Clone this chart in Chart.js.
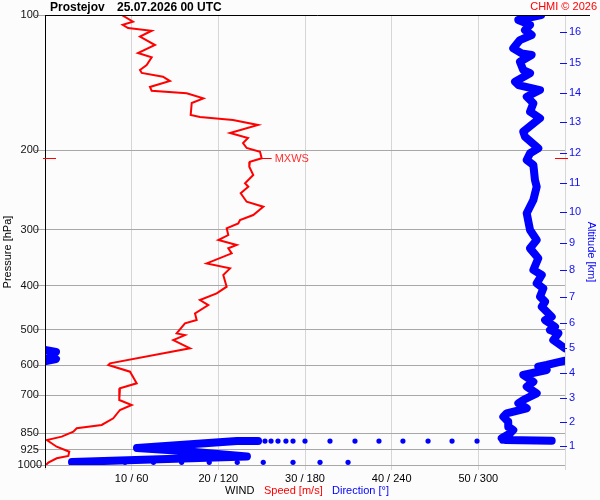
<!DOCTYPE html>
<html><head><meta charset="utf-8">
<script src="https://cdn.jsdelivr.net/npm/chart.js@4"></script>
<style>html,body{margin:0;padding:0;background:#fcfcfc;}canvas{display:block;}</style>
</head><body>
<canvas id="c" width="600" height="500"></canvas>
<script>
// ---- axes / ticks ----
const pressureTicks = [100, 200, 300, 400, 500, 600, 700, 850, 925, 1000];
const altitudeKm = [1, 2, 3, 4, 5, 6, 7, 8, 9, 10, 11, 12, 13, 14, 15, 16];
const altitudePressure = [907.5, 801, 710.8, 625.6, 550.5, 484.3, 422.7, 368.6, 320.6, 273.6, 236.6, 202.9, 172.9, 149.3, 127.6, 109.3];
const speedTicks = [0, 10, 20, 30, 40, 50, 60];
const xTickLabels = ['', '10 / 60', '20 / 120', '30 / 180', '40 / 240', '50 / 300', ''];

// ---- wind speed profile [m/s] vs pressure [hPa] ----
const speedPressure = [100, 103.5, 105.2, 106.9, 108.4, 111.7, 116.6, 121.5, 124.2, 129.2, 132.5, 134.5, 137.1, 140.2, 144.5, 147.3, 149.3, 153.2, 156.9, 166.8, 168.5, 171.1, 175.6, 182.9, 187.6, 192.5, 197.5, 201.3, 208.2, 211.8, 217.3, 226.8, 236.6, 240.8, 248.9, 260.0, 266.7, 278.3, 285.5, 290.4, 297.9, 308.3, 316.2, 324.4, 330.0, 338.6, 356.4, 365.6, 378.3, 401.6, 415.4, 429.9, 441.1, 460.3, 476.4, 484.5, 509.9, 514.3, 527.6, 550.5, 594.3, 599.5, 620.4, 658.4, 675.5, 717.1, 735.6, 754.6, 787.3, 814.8, 828.6, 843.3, 865.0, 880.0, 910.7, 934.2, 955.0, 966.3, 988.2, 1000];
const speedValues = [8.85, 10.15, 8.97, 9.58, 12.31, 10.96, 12.69, 10.73, 12.31, 11.73, 10.96, 11.16, 13.61, 14.42, 12.11, 12.31, 16.35, 18.27, 16.93, 16.81, 17.88, 21.69, 24.58, 21.35, 23.42, 22.85, 23.27, 24.81, 25.0, 23.65, 23.57, 24.03, 23.08, 23.46, 22.58, 23.27, 25.19, 24.03, 22.5, 22.3, 20.96, 21.15, 20.0, 22.12, 21.15, 21.54, 18.66, 21.35, 20.57, 20.96, 19.81, 17.88, 18.84, 17.31, 17.5, 16.15, 15.19, 16.15, 14.8, 16.73, 7.5, 7.3, 9.81, 10.58, 8.65, 8.57, 10.0, 8.65, 7.88, 6.54, 3.66, 3.27, 1.93, 0.2, 1.35, 2.8, 2.69, 1.35, 0.38, 0.1];

// ---- wind direction [deg] vs pressure [hPa] ----
const dirUpperPressure = [100, 102.6, 105.2, 108.0, 110.8, 113.7, 118.6, 121.7, 122.7, 127.0, 132.5, 134.7, 140.7, 143.1, 146.8, 151.9, 157.1, 164.0, 169.6, 181.7, 186.4, 197.8, 202.9, 210.1, 215.4, 232.6, 240.8, 257.7, 275.9, 300.5, 316.2, 330.0, 347.2, 368.6, 378.3, 394.7, 405.0, 422.7, 433.6, 444.9, 468.4, 476.4, 492.9, 501.2, 509.7, 527.6, 550.5];
const dirUpperValues = [343.4, 327.7, 335.8, 332.3, 336.9, 328.8, 324.2, 330.0, 336.9, 328.8, 331.1, 335.8, 325.4, 327.7, 342.7, 333.5, 338.1, 335.8, 342.7, 331.1, 332.3, 341.5, 335.8, 333.5, 338.1, 339.2, 340.4, 338.1, 333.5, 335.8, 340.4, 335.8, 341.5, 338.1, 343.9, 340.4, 345.0, 342.7, 346.2, 343.9, 350.8, 346.2, 353.1, 349.6, 355.4, 351.9, 360];
const dirWrapPressure = [555.3, 561.0, 572.5, 581.4, 587.4];
const dirWrapValues = [0, 7.6, 3.5, 7.6, 0.7];
const dirMidPressure = [586.5, 599.5, 604.8, 615.0, 631.0, 653.0, 669.9, 692.9, 717.1, 729.3, 748.2, 767.6, 781.0, 801.2, 822.0, 836.0, 850.4, 872.2, 880.0, 883.2];
const dirMidValues = [360, 347.3, 341.5, 347.3, 331.1, 338.1, 333.5, 340.4, 331.1, 327.7, 333.5, 319.6, 317.3, 320.7, 320.7, 324.2, 321.9, 316.2, 318.5, 350.8];
const dirDotsPressure = [884.6, 884.6, 884.6, 884.6, 884.6, 884.6, 884.6, 884.6, 884.6, 884.6, 884.6, 884.6, 884.6, 884.6, 986.3, 986.3, 986.3, 986.3, 986.3, 986.3, 986.3, 986.3, 986.3, 986.3];
const dirDotsValues = [316.4, 299.1, 281.8, 265.2, 247.8, 231.2, 214.6, 197.3, 180.0, 171.7, 166.8, 161.3, 156.5, 152.3, 36.9, 55.4, 75.1, 94.6, 113.7, 133.1, 151.1, 171.7, 190.4, 209.8];
const dirLowPressure = [884.6, 884.6, 916.9, 930.9, 957.4, 984.8];
const dirLowValues = [147.5, 132.9, 63.7, 95.5, 139.8, 18.7];

// ---- max wind marker ----
const mxwsSpeed = 25.0;
const mxwsPressure = 208.2;

const FONT = "'Liberation Sans', Arial, Helvetica, sans-serif";
Chart.defaults.font.family = FONT;
Chart.defaults.font.size = 11;

const zip = (xs, ys) => xs.map((x, i) => ({x: x, y: ys[i]}));
const BLUE = '#0000ff';
const RED = '#ff0000';

const blueLine = (data) => ({
  data: data, xAxisID: 'xd', yAxisID: 'y', showLine: true,
  borderColor: BLUE, backgroundColor: BLUE, borderWidth: 8,
  borderCapStyle: 'round', borderJoinStyle: 'round', pointRadius: 0, tension: 0
});

const decor = {
  id: 'decor',
  afterDraw(chart) {
    const {ctx, chartArea: a, scales} = chart;
    ctx.save();
    ctx.lineWidth = 1;
    ctx.strokeStyle = '#000';
    ctx.beginPath();
    ctx.moveTo(a.left, Math.round(a.top) + 0.5); ctx.lineTo(590, Math.round(a.top) + 0.5);
    ctx.moveTo(Math.round(a.left) + 0.5, a.top); ctx.lineTo(Math.round(a.left) + 0.5, a.bottom + 3);
    ctx.stroke();
    // altitude ticks
    ctx.strokeStyle = '#1010ee';
    ctx.beginPath();
    altitudePressure.forEach(p => {
      const y = Math.round(scales.alt.getPixelForValue(p)) + 0.5;
      ctx.moveTo(a.right - 5, y); ctx.lineTo(a.right + 2, y);
    });
    ctx.stroke();
    // MXWS
    const my = Math.round(scales.y.getPixelForValue(mxwsPressure)) + 0.5;
    const mx = scales.x.getPixelForValue(mxwsSpeed);
    ctx.strokeStyle = RED;
    ctx.beginPath();
    ctx.moveTo(a.left - 2, my); ctx.lineTo(a.left + 11, my);
    ctx.moveTo(a.right - 10, my); ctx.lineTo(a.right + 3, my);
    ctx.moveTo(mx, my); ctx.lineTo(mx + 10, my);
    ctx.stroke();
    ctx.textBaseline = 'middle';
    ctx.textAlign = 'left';
    ctx.font = '11px ' + FONT;
    ctx.fillStyle = '#ff3030';
    ctx.fillText('MXWS', mx + 13, my);
    // header
    ctx.fillStyle = '#000';
    ctx.font = 'bold 12px ' + FONT;
    ctx.fillText('Prostejov', 50, 8);
    ctx.fillText('25.07.2026 00 UTC', 117, 8);
    ctx.font = '11px ' + FONT;
    ctx.fillStyle = RED;
    ctx.textAlign = 'right';
    ctx.fillText('CHMI © 2026', 597, 7);
    // bottom legend
    ctx.textAlign = 'left';
    ctx.fillStyle = '#000';
    ctx.fillText('WIND', 225, 491);
    ctx.fillStyle = RED;
    ctx.fillText('Speed [m/s]', 264, 491);
    ctx.fillStyle = BLUE;
    ctx.fillText('Direction [°]', 332, 491);
    // axis titles
    ctx.textAlign = 'center';
    ctx.save();
    ctx.translate(8, 252); ctx.rotate(-Math.PI / 2);
    ctx.fillStyle = '#000';
    ctx.fillText('Pressure [hPa]', 0, 0);
    ctx.restore();
    ctx.save();
    ctx.translate(591, 252); ctx.rotate(Math.PI / 2);
    ctx.fillStyle = BLUE;
    ctx.fillText('Altitude [km]', 0, 0);
    ctx.restore();
    ctx.restore();
  }
};

new Chart(document.getElementById('c'), {
  type: 'scatter',
  data: {
    datasets: [
      blueLine(zip(dirUpperValues, dirUpperPressure)),
      blueLine(zip(dirWrapValues, dirWrapPressure)),
      blueLine(zip(dirMidValues, dirMidPressure)),
      blueLine(zip(dirLowValues, dirLowPressure)),
      {data: zip(dirDotsValues, dirDotsPressure), xAxisID: 'xd', yAxisID: 'y', showLine: false,
       pointRadius: 2.6, pointBorderWidth: 0, backgroundColor: BLUE, borderColor: BLUE},
      {data: zip(speedValues, speedPressure), xAxisID: 'x', yAxisID: 'y', showLine: true,
       borderColor: RED, backgroundColor: RED, borderWidth: 2, pointRadius: 0, tension: 0}
    ]
  },
  options: {
    responsive: false, animation: false, devicePixelRatio: 1,
    layout: {padding: {top: 15, left: 0, right: 0, bottom: 0}},
    plugins: {legend: {display: false}, tooltip: {enabled: false}},
    scales: {
      x: {
        type: 'linear', position: 'bottom', min: 0, max: 60,
        afterBuildTicks: s => { s.ticks = speedTicks.map(v => ({value: v})); },
        afterFit: s => { s.height = 35; },
        ticks: {autoSkip: false, maxRotation: 0, padding: 2, color: '#000', font: {size: 11},
          callback: v => { const i = speedTicks.indexOf(v); return i >= 0 ? xTickLabels[i] : ''; }},
        grid: {color: '#d6d6d6', tickColor: '#d6d6d6', tickLength: 5},
        border: {display: false}
      },
      xd: {type: 'linear', display: false, min: 0, max: 360},
      y: {
        type: 'logarithmic', position: 'left', min: 100, max: 1000, reverse: true,
        afterBuildTicks: s => { s.ticks = pressureTicks.map(v => ({value: v})); },
        afterFit: s => { s.width = 45; },
        ticks: {autoSkip: false, crossAlign: 'center', padding: -7, color: '#111', font: {size: 11},
          callback: v => String(v)},
        grid: {color: '#a8a8a8', tickColor: '#a8a8a8', tickLength: 10},
        border: {display: false}
      },
      alt: {
        type: 'logarithmic', position: 'right', min: 100, max: 1000, reverse: true,
        afterBuildTicks: s => { s.ticks = altitudePressure.map(v => ({value: v})); },
        afterFit: s => { s.width = 35; },
        ticks: {autoSkip: false, padding: 4, color: '#1010ee', font: {size: 11},
          callback: v => { const i = altitudePressure.indexOf(v); return i >= 0 ? String(altitudeKm[i]) : ''; }},
        grid: {drawOnChartArea: false, drawTicks: false},
        border: {display: false}
      }
    }
  },
  plugins: [decor]
});
</script>
</body></html>
